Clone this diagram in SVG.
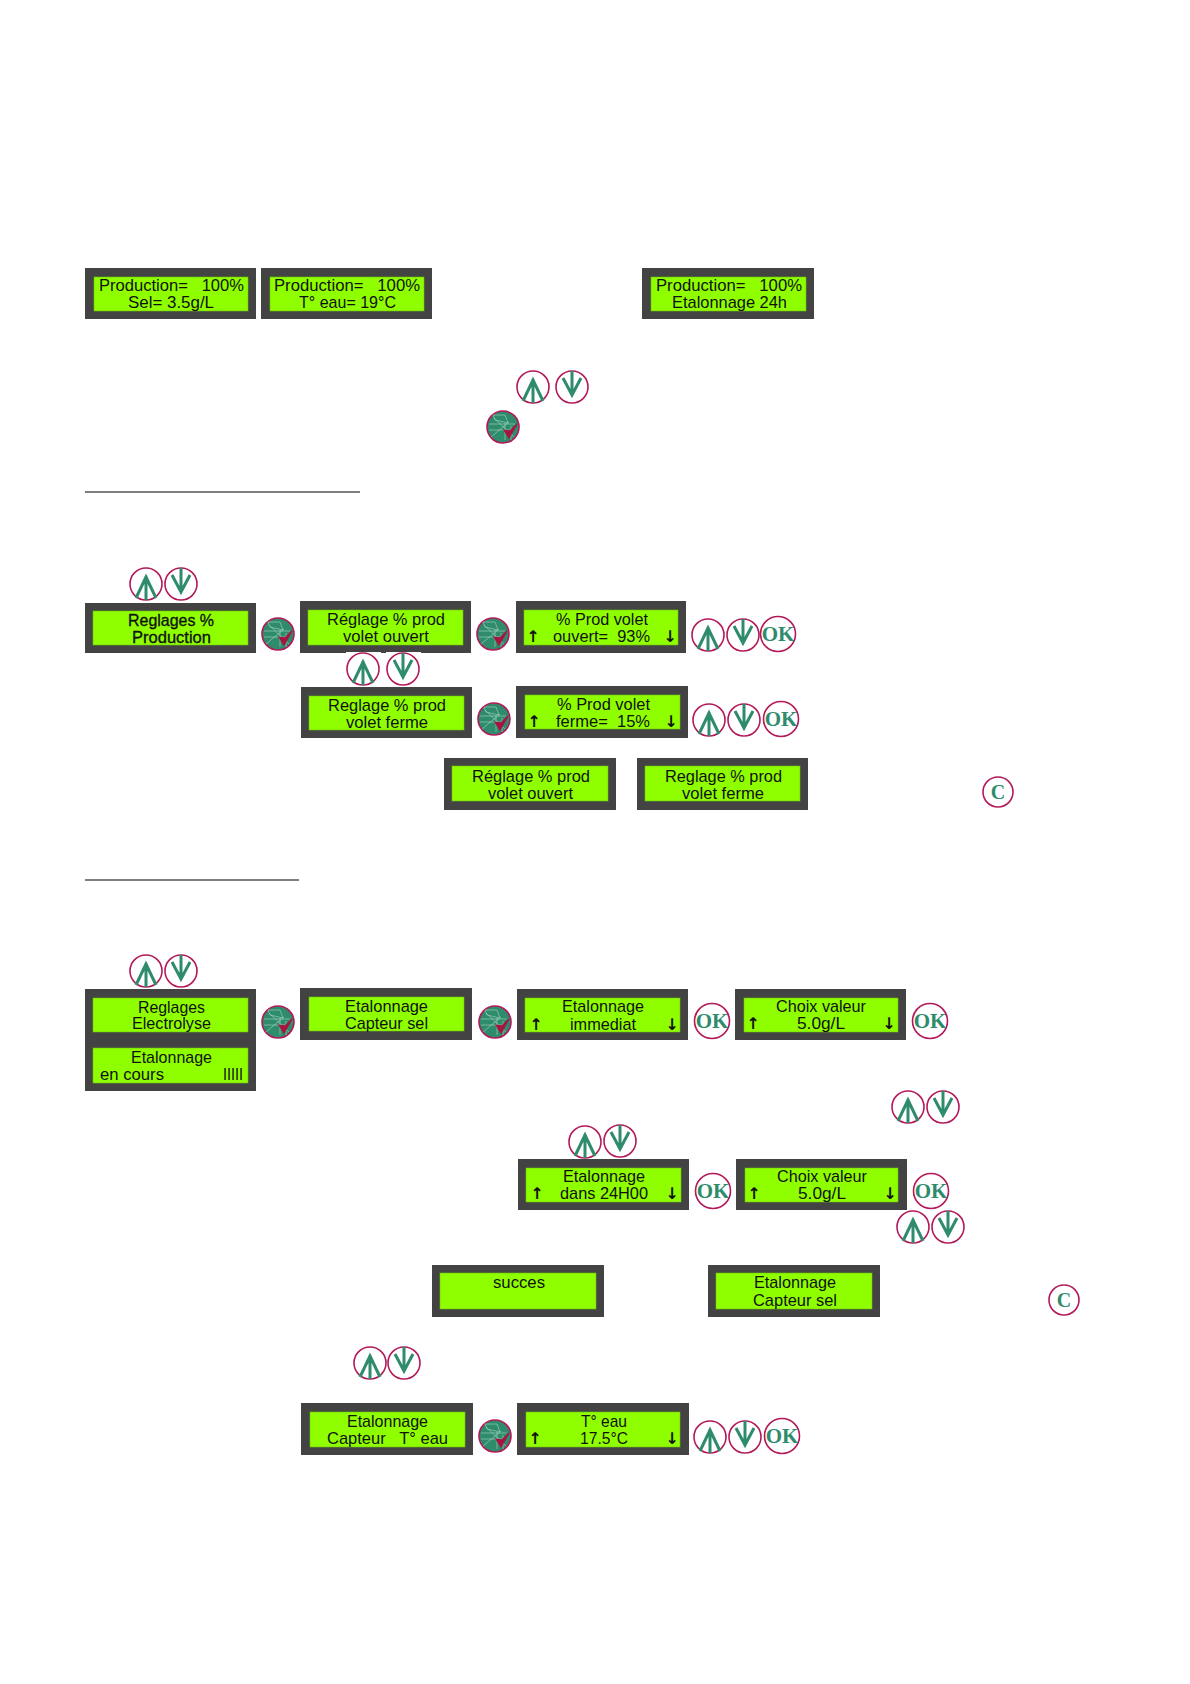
<svg xmlns="http://www.w3.org/2000/svg" width="1190" height="1684" viewBox="0 0 1190 1684">
<style>
.o{fill:#434343}
.i{fill:#8fff00;stroke:#6fbf10;stroke-width:.6}
text{font-family:"Liberation Sans",Arial,sans-serif;font-size:17px;fill:#111;white-space:pre}
.b{stroke:#111;stroke-width:.35}
.a{font-family:"DejaVu Sans",sans-serif;font-size:16px;text-anchor:middle;font-weight:bold}
.k{font-family:"Liberation Serif",serif;font-weight:bold;fill:#2e8b6c;text-anchor:middle}
.ok{font-size:21px}
.c{font-size:20px}
.r{fill:#fff;stroke:#b3195a;stroke-width:1.6}
.g{fill:none;stroke:#2e8b6c;stroke-width:3}
.u{stroke:#000;stroke-width:1}
</style>
<defs>
<g id="up"><circle class="r" r="16"/><path class="g" d="M0 16V-8M-10 14L0-7L10 14"/></g>
<g id="dn"><circle class="r" r="16"/><path class="g" d="M0-16V7M-9-9L0 8L9-9"/></g>
<g id="sel"><circle r="16" fill="#2e8b6c" stroke="#b3195a" stroke-width="1.6"/><path d="M-14-3H12M-14 3H8M-10-12L2-12L5-4L-8-7ZM-9-9L11 10M-12 10L6-5M2-4V13M8-1V13" fill="none" stroke="#a8d8c4" stroke-width=".6"/><path d="M1 3L6 11L14-3L7 4Z" fill="#a81440" stroke="#a81440" stroke-width="1.2"/></g>
</defs>
<g id="rules"><line class="u" x1="85" y1="492" x2="360" y2="492"/><line class="u" x1="85" y1="880" x2="299" y2="880"/></g>
<g id="connectors"/>

<g id="p-prod-sel"><rect class="o" x="85" y="268" width="171" height="51"/><rect class="i" x="94" y="277" width="154" height="34"/><text x="99" y="291" textLength="145" lengthAdjust="spacingAndGlyphs">Production=   100%</text><text x="128" y="308" textLength="86" lengthAdjust="spacingAndGlyphs">Sel= 3.5g/L</text></g>
<g id="p-prod-eau"><rect class="o" x="261" y="268" width="171" height="51"/><rect class="i" x="270" y="277" width="154" height="34"/><text x="274" y="291" textLength="146" lengthAdjust="spacingAndGlyphs">Production=   100%</text><text x="299" y="308" textLength="97" lengthAdjust="spacingAndGlyphs">T° eau= 19°C</text></g>
<g id="p-prod-24h"><rect class="o" x="642" y="268" width="172" height="51"/><rect class="i" x="651" y="277" width="155" height="34"/><text x="656" y="291" textLength="146" lengthAdjust="spacingAndGlyphs">Production=   100%</text><text x="672" y="308" textLength="115" lengthAdjust="spacingAndGlyphs">Etalonnage 24h</text></g>

<g id="p-reglages-prod"><rect class="o" x="85" y="603" width="171" height="50"/><rect class="i" x="93" y="611" width="155" height="34"/><text class="b" x="128" y="626" textLength="86" lengthAdjust="spacingAndGlyphs">Reglages %</text><text class="b" x="132" y="643" textLength="79" lengthAdjust="spacingAndGlyphs">Production</text></g>
<g id="p-reg-ouvert"><rect class="o" x="300" y="601" width="171" height="52"/><rect class="i" x="308" y="610" width="155" height="35"/><text x="327" y="625" textLength="118" lengthAdjust="spacingAndGlyphs">Réglage % prod</text><text x="343" y="642" textLength="86" lengthAdjust="spacingAndGlyphs">volet ouvert</text></g>
<g id="p-pct-ouvert"><rect class="o" x="516" y="601" width="170" height="52"/><rect class="i" x="524" y="610" width="154" height="35"/><text x="556" y="625" textLength="92" lengthAdjust="spacingAndGlyphs">% Prod volet</text><text x="553" y="642" textLength="97" lengthAdjust="spacingAndGlyphs">ouvert=  93%</text><text class="a" x="533" y="642">↑</text><text class="a" x="670" y="642">↓</text></g>
<g id="p-reg-ferme"><rect class="o" x="301" y="687" width="171" height="51"/><rect class="i" x="309" y="696" width="155" height="34"/><text x="328" y="711" textLength="118" lengthAdjust="spacingAndGlyphs">Reglage % prod</text><text x="346" y="728" textLength="82" lengthAdjust="spacingAndGlyphs">volet ferme</text></g>
<g id="p-pct-ferme"><rect class="o" x="516" y="686" width="172" height="52"/><rect class="i" x="525" y="695" width="155" height="34"/><text x="557" y="710" textLength="93" lengthAdjust="spacingAndGlyphs">% Prod volet</text><text x="556" y="727" textLength="94" lengthAdjust="spacingAndGlyphs">ferme=  15%</text><text class="a" x="534" y="727">↑</text><text class="a" x="671" y="727">↓</text></g>
<g id="p-reg-ouvert2"><rect class="o" x="444" y="758" width="172" height="52"/><rect class="i" x="452" y="766" width="156" height="35"/><text x="472" y="782" textLength="118" lengthAdjust="spacingAndGlyphs">Réglage % prod</text><text x="488" y="799" textLength="85" lengthAdjust="spacingAndGlyphs">volet ouvert</text></g>
<g id="p-reg-ferme2"><rect class="o" x="637" y="758" width="171" height="52"/><rect class="i" x="645" y="766" width="155" height="35"/><text x="665" y="782" textLength="117" lengthAdjust="spacingAndGlyphs">Reglage % prod</text><text x="682" y="799" textLength="82" lengthAdjust="spacingAndGlyphs">volet ferme</text></g>

<g id="p-reglages-elec"><rect class="o" x="85" y="989" width="171" height="49"/><rect class="i" x="93" y="998" width="155" height="34"/><text x="138" y="1013" textLength="67" lengthAdjust="spacingAndGlyphs">Reglages</text><text x="132" y="1029" textLength="79" lengthAdjust="spacingAndGlyphs">Electrolyse</text></g>
<g id="p-en-cours"><rect class="o" x="85" y="1038" width="171" height="53"/><rect class="i" x="93" y="1048" width="155" height="35"/><text x="131" y="1063" textLength="81" lengthAdjust="spacingAndGlyphs">Etalonnage</text><text x="100" y="1080" textLength="64" lengthAdjust="spacingAndGlyphs">en cours</text><text x="223" y="1080" textLength="20" lengthAdjust="spacingAndGlyphs">IIIII</text></g>
<g id="p-capteur-sel"><rect class="o" x="300" y="988" width="172" height="52"/><rect class="i" x="309" y="997" width="155" height="34"/><text x="345" y="1012" textLength="83" lengthAdjust="spacingAndGlyphs">Etalonnage</text><text x="345" y="1029" textLength="83" lengthAdjust="spacingAndGlyphs">Capteur sel</text></g>
<g id="p-immediat"><rect class="o" x="517" y="989" width="171" height="51"/><rect class="i" x="525" y="998" width="155" height="34"/><text x="562" y="1012" textLength="82" lengthAdjust="spacingAndGlyphs">Etalonnage</text><text x="570" y="1030" textLength="66" lengthAdjust="spacingAndGlyphs">immediat</text><text class="a" x="536" y="1030">↑</text><text class="a" x="672" y="1030">↓</text></g>
<g id="p-choix1"><rect class="o" x="735" y="989" width="171" height="51"/><rect class="i" x="744" y="998" width="154" height="34"/><text x="776" y="1012" textLength="90" lengthAdjust="spacingAndGlyphs">Choix valeur</text><text x="797" y="1029" textLength="48" lengthAdjust="spacingAndGlyphs">5.0g/L</text><text class="a" x="753" y="1029">↑</text><text class="a" x="889" y="1029">↓</text></g>
<g id="p-24h"><rect class="o" x="518" y="1159" width="171" height="51"/><rect class="i" x="526" y="1168" width="155" height="34"/><text x="563" y="1182" textLength="82" lengthAdjust="spacingAndGlyphs">Etalonnage</text><text x="560" y="1199" textLength="88" lengthAdjust="spacingAndGlyphs">dans 24H00</text><text class="a" x="537" y="1199">↑</text><text class="a" x="672" y="1199">↓</text></g>
<g id="p-choix2"><rect class="o" x="736" y="1159" width="171" height="51"/><rect class="i" x="745" y="1168" width="153" height="34"/><text x="777" y="1182" textLength="90" lengthAdjust="spacingAndGlyphs">Choix valeur</text><text x="798" y="1199" textLength="48" lengthAdjust="spacingAndGlyphs">5.0g/L</text><text class="a" x="754" y="1199">↑</text><text class="a" x="890" y="1199">↓</text></g>
<g id="p-succes"><rect class="o" x="432" y="1265" width="172" height="52"/><rect class="i" x="440" y="1273" width="156" height="36"/><text x="493" y="1288" textLength="52" lengthAdjust="spacingAndGlyphs">succes</text></g>
<g id="p-capteur-sel2"><rect class="o" x="708" y="1265" width="172" height="52"/><rect class="i" x="716" y="1273" width="156" height="36"/><text x="754" y="1288" textLength="82" lengthAdjust="spacingAndGlyphs">Etalonnage</text><text x="753" y="1306" textLength="84" lengthAdjust="spacingAndGlyphs">Capteur sel</text></g>
<g id="p-capteur-eau"><rect class="o" x="301" y="1403" width="172" height="52"/><rect class="i" x="310" y="1412" width="155" height="35"/><text x="347" y="1427" textLength="81" lengthAdjust="spacingAndGlyphs">Etalonnage</text><text x="327" y="1444" textLength="121" lengthAdjust="spacingAndGlyphs">Capteur   T° eau</text></g>
<g id="p-eau"><rect class="o" x="517" y="1403" width="172" height="52"/><rect class="i" x="526" y="1412" width="154" height="35"/><text x="581" y="1427" textLength="46" lengthAdjust="spacingAndGlyphs">T° eau</text><text x="580" y="1444" textLength="48" lengthAdjust="spacingAndGlyphs">17.5°C</text><text class="a" x="535" y="1444">↑</text><text class="a" x="672" y="1444">↓</text></g>

<g id="icons">
<use href="#up" x="533" y="387"/><use href="#dn" x="572" y="387"/><use href="#sel" x="503" y="427"/>
<use href="#up" x="146" y="584"/><use href="#dn" x="181" y="584"/>
<use href="#sel" x="278" y="634"/><use href="#sel" x="493" y="634"/>
<rect x="346" y="652" width="35" height="2" fill="#fff"/><rect x="386" y="652" width="35" height="2" fill="#fff"/>
<use href="#up" x="363" y="669"/><use href="#dn" x="403" y="669"/>
<use href="#sel" x="494" y="719"/>
<use href="#up" x="708" y="635"/><use href="#dn" x="743" y="635"/>
<g id="ok1"><circle class="r" cx="778" cy="634" r="17.5"/><text class="k ok" x="778" y="641">OK</text></g>
<use href="#up" x="709" y="720"/><use href="#dn" x="744" y="720"/>
<g id="ok2"><circle class="r" cx="781" cy="719" r="17.5"/><text class="k ok" x="781" y="726">OK</text></g>
<g id="c1"><circle class="r" cx="998" cy="792" r="15"/><text class="k c" x="998" y="799">C</text></g>
<use href="#up" x="146" y="971"/><use href="#dn" x="181" y="971"/>
<use href="#sel" x="278" y="1022"/><use href="#sel" x="495" y="1022"/>
<g id="ok3"><circle class="r" cx="712" cy="1021" r="17.5"/><text class="k ok" x="712" y="1028">OK</text></g>
<g id="ok4"><circle class="r" cx="930" cy="1021" r="17.5"/><text class="k ok" x="930" y="1028">OK</text></g>
<use href="#up" x="908" y="1107"/><use href="#dn" x="943" y="1107"/>
<use href="#up" x="585" y="1142"/><use href="#dn" x="620" y="1141"/>
<g id="ok5"><circle class="r" cx="713" cy="1191" r="17.5"/><text class="k ok" x="713" y="1198">OK</text></g>
<g id="ok6"><circle class="r" cx="931" cy="1191" r="17.5"/><text class="k ok" x="931" y="1198">OK</text></g>
<use href="#up" x="913" y="1227"/><use href="#dn" x="948" y="1227"/>
<g id="c2"><circle class="r" cx="1064" cy="1300" r="15"/><text class="k c" x="1064" y="1307">C</text></g>
<use href="#up" x="370" y="1363"/><use href="#dn" x="404" y="1363"/>
<use href="#sel" x="495" y="1436"/>
<use href="#up" x="710" y="1437"/><use href="#dn" x="745" y="1437"/>
<g id="ok7"><circle class="r" cx="782" cy="1436" r="17.5"/><text class="k ok" x="782" y="1443">OK</text></g>
</g>
</svg>
